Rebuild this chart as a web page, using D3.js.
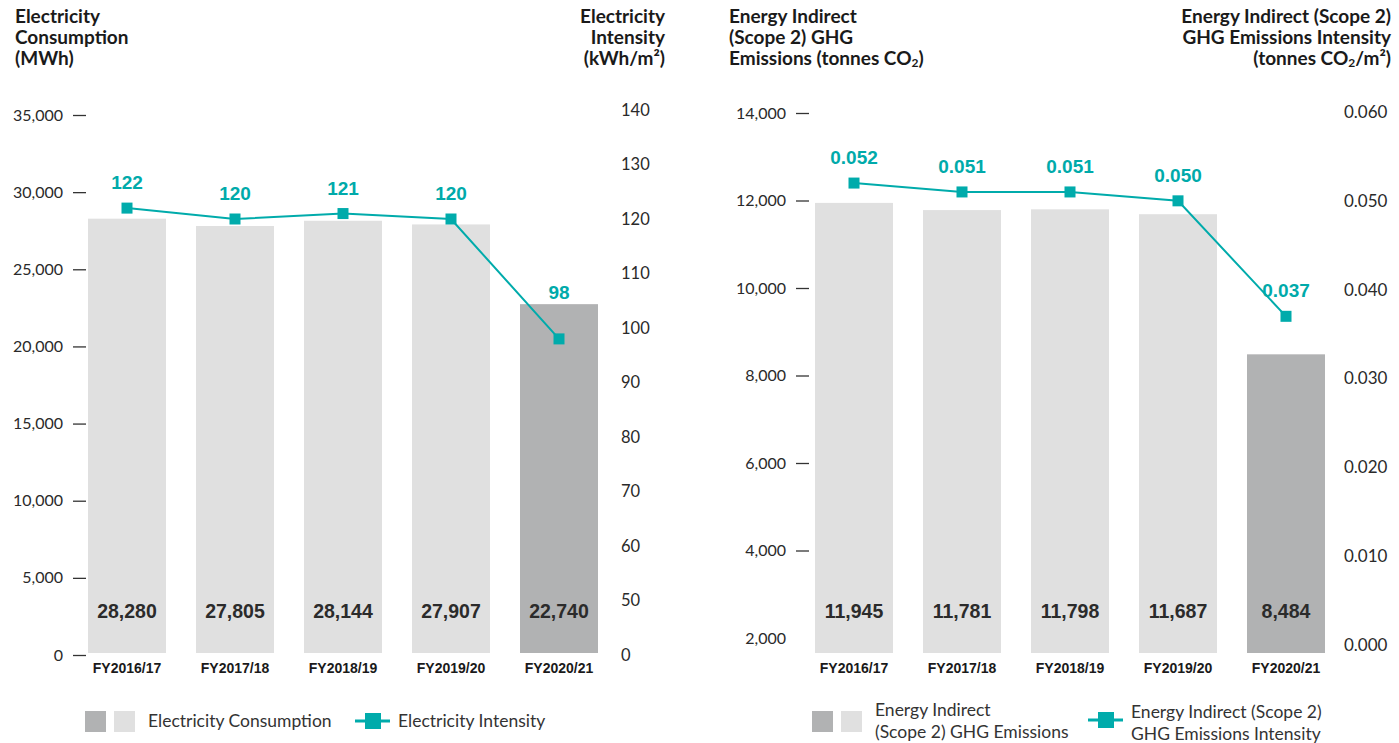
<!DOCTYPE html>
<html>
<head>
<meta charset="utf-8">
<script src="https://cdn.jsdelivr.net/npm/d3@7/dist/d3.min.js"></script>
<style>
  html, body { margin: 0; padding: 0; background: #fff; }
  svg { display: block; }
  .title { font-family: Lato, "Open Sans", sans-serif; font-weight: 700; font-size: 19px; fill: #1a1a1a; }
  .tick text { font-family: Lato, "Open Sans", sans-serif; font-size: 16px; fill: #2a2a2a; }
  .bar-label { font-family: "Liberation Sans", Arial, sans-serif; font-weight: 700; font-size: 19.5px; fill: #2b2b2b; }
  .cat-label { font-family: "Liberation Sans", Arial, sans-serif; font-weight: 700; font-size: 14px; fill: #1a1a1a; }
  .pt-label { font-family: "Liberation Sans", Arial, sans-serif; font-weight: 700; font-size: 19px; fill: #00aaaa; }
  .legend { font-family: Lato, "Open Sans", sans-serif; font-size: 17.5px; fill: #333; }
</style>
</head>
<body>
<svg id="chart" width="1399" height="743"></svg>
<script>
// ---- Data ----
const years = ["FY2016/17", "FY2017/18", "FY2018/19", "FY2019/20", "FY2020/21"];

const elecConsumption = [28280, 27805, 28144, 27907, 22740];   // MWh
const elecIntensity = [122, 120, 121, 120, 98];                 // kWh/m²

const ghgEmissions = [11945, 11781, 11798, 11687, 8484];        // tonnes CO2
const ghgIntensity = [0.052, 0.051, 0.051, 0.050, 0.037];       // tonnes CO2/m²

const elecTicks = [0, 5000, 10000, 15000, 20000, 25000, 30000, 35000];
const elecIntensityTicks = [40, 50, 60, 70, 80, 90, 100, 110, 120, 130, 140];
const elecIntensityTickLabels = ["0", "50", "60", "70", "80", "90", "100", "110", "120", "130", "140"];
const ghgTicks = [2000, 4000, 6000, 8000, 10000, 12000, 14000];
const ghgIntensityTicks = [0, 0.01, 0.02, 0.03, 0.04, 0.05, 0.06];

// ---- Style ----
const TEAL = "#00abab";
const BAR_LIGHT = "#e0e0e0";
const BAR_DARK = "#b1b2b3";
const BAR_BASE = 653;

const svg = d3.select("#chart");
const fmtInt = d3.format(",");

function barColor(i) { return i === years.length - 1 ? BAR_DARK : BAR_LIGHT; }

// Multi-line title; each line is an array of [text, isSubscript] pieces
function title(x, y, lines, anchor) {
  const t = svg.append("text").attr("class", "title").attr("text-anchor", anchor);
  lines.forEach((pieces, li) => {
    pieces.forEach((p, pi) => {
      const ts = t.append("tspan");
      if (pi === 0) ts.attr("x", x).attr("y", y + li * 21);
      if (p[1]) ts.attr("font-size", "12px").attr("dy", 2);
      else if (pi > 0 && pieces[pi - 1][1]) ts.attr("dy", -2);
      ts.text(p[0]);
    });
  });
}

function panel(opt) {
  const x = d3.scaleBand().domain(years).range(opt.xRange).paddingInner(0.278).paddingOuter(0.139);
  const g = svg.append("g");

  // left axis (bars)
  const axL = d3.axisLeft(opt.yBar).tickValues(opt.barTicks).tickSize(13).tickPadding(10)
    .tickFormat(d3.format(","));
  const gl = g.append("g").attr("transform", `translate(${opt.leftAxisX},0)`).call(axL);
  gl.select(".domain").remove();
  gl.selectAll(".tick line").attr("stroke", "#333").attr("stroke-width", 1.3);
  if (opt.noTickAt !== undefined) {
    gl.selectAll(".tick").filter(d => d === opt.noTickAt).select("line").remove();
  }

  // right axis (line)
  const axR = d3.axisRight(opt.yLine).tickValues(opt.lineTicks).tickSize(0).tickPadding(0)
    .tickFormat(opt.lineTickFormat);
  const gr = g.append("g").attr("transform", `translate(${opt.rightAxisX},0)`).call(axR);
  gr.select(".domain").remove();
  gr.selectAll(".tick text").style("font-size", opt.rightTickSize);

  // bars
  g.selectAll("rect.bar").data(opt.barValues).join("rect")
    .attr("class", "bar")
    .attr("x", (d, i) => x(years[i]))
    .attr("width", x.bandwidth())
    .attr("y", d => opt.yBar(d))
    .attr("height", d => BAR_BASE - opt.yBar(d))
    .attr("fill", (d, i) => barColor(i));

  // bar value labels
  g.selectAll("text.bar-label").data(opt.barValues).join("text")
    .attr("class", "bar-label")
    .attr("x", (d, i) => x(years[i]) + x.bandwidth() / 2)
    .attr("y", 618)
    .attr("text-anchor", "middle")
    .text(d => fmtInt(d));

  // category labels
  g.selectAll("text.cat-label").data(years).join("text")
    .attr("class", "cat-label")
    .attr("x", d => x(d) + x.bandwidth() / 2)
    .attr("y", 673)
    .attr("text-anchor", "middle")
    .text(d => d);

  // intensity line
  const cx = (d, i) => x(years[i]) + x.bandwidth() / 2;
  const line = d3.line().x(cx).y(d => opt.yLine(d));
  g.append("path").datum(opt.lineValues)
    .attr("d", line).attr("fill", "none").attr("stroke", TEAL).attr("stroke-width", 2);

  g.selectAll("rect.marker").data(opt.lineValues).join("rect")
    .attr("class", "marker")
    .attr("x", (d, i) => cx(d, i) - 5.5)
    .attr("y", d => opt.yLine(d) - 5.5)
    .attr("width", 11).attr("height", 11)
    .attr("fill", TEAL);

  // point labels: above the point, or above the bar when the point sits inside it
  g.selectAll("text.pt-label").data(opt.lineValues).join("text")
    .attr("class", "pt-label")
    .attr("x", (d, i) => cx(d, i))
    .attr("y", (d, i) => {
      const py = opt.yLine(d), by = opt.yBar(opt.barValues[i]);
      return py > by + 15 ? by - 5 : py - 19;
    })
    .attr("text-anchor", "middle")
    .text(d => opt.lineLabelFormat(d));
}

// ---- Left panel: Electricity ----
panel({
  xRange: [73, 613],
  yBar: d3.scaleLinear().domain([0, 35000]).range([655, 115]),
  yLine: d3.scaleLinear().domain([40, 140]).range([655, 110]),
  barTicks: elecTicks,
  lineTicks: elecIntensityTicks,
  lineTickFormat: (d, i) => elecIntensityTickLabels[i],
  leftAxisX: 86,
  rightAxisX: 621,
  rightTickSize: "16.5px",
  barValues: elecConsumption,
  lineValues: elecIntensity,
  lineLabelFormat: d3.format("d")
});

// ---- Right panel: Scope 2 GHG emissions ----
panel({
  xRange: [800, 1340],
  yBar: d3.scaleLinear().domain([2000, 14000]).range([638, 113]),
  yLine: d3.scaleLinear().domain([0, 0.06]).range([645, 112]),
  barTicks: ghgTicks,
  lineTicks: ghgIntensityTicks,
  lineTickFormat: d3.format(".3f"),
  leftAxisX: 809,
  rightAxisX: 1344,
  rightTickSize: "17px",
  noTickAt: 2000,
  barValues: ghgEmissions,
  lineValues: ghgIntensity,
  lineLabelFormat: d3.format(".3f")
});

// ---- Titles ----
title(15, 23, [[["Electricity"]], [["Consumption"]], [["(MWh)"]]], "start");
title(665, 23, [[["Electricity"]], [["Intensity"]], [["(kWh/m²)"]]], "end");
title(729, 23, [[["Energy Indirect"]], [["(Scope 2) GHG"]], [["Emissions (tonnes CO"], ["2", true], [")"]]], "start");
title(1391, 23, [[["Energy Indirect (Scope 2)"]], [["GHG Emissions Intensity"]],
  [["(tonnes CO"], ["2", true], ["/m²)"]]], "end");

// ---- Legends ----
function legendBars(x, y) {
  svg.append("rect").attr("x", x).attr("y", y).attr("width", 21).attr("height", 21).attr("fill", BAR_DARK);
  svg.append("rect").attr("x", x + 29).attr("y", y).attr("width", 21).attr("height", 21).attr("fill", BAR_LIGHT);
}
function legendLine(x, y) {
  svg.append("line").attr("x1", x).attr("x2", x + 35).attr("y1", y).attr("y2", y)
    .attr("stroke", TEAL).attr("stroke-width", 3);
  svg.append("rect").attr("x", x + 10).attr("y", y - 8).attr("width", 16).attr("height", 16).attr("fill", TEAL);
}
function legendText(x, y, lines, color) {
  const t = svg.append("text").attr("class", "legend").attr("fill", color);
  lines.forEach((s, i) => t.append("tspan").attr("x", x).attr("y", y + i * 22).text(s));
}

legendBars(85, 711);
legendText(148, 727, ["Electricity Consumption"], "#333");
legendLine(355, 721);
legendText(398, 727, ["Electricity Intensity"], "#6b6b6b");

legendBars(812, 711);
legendText(875, 716, ["Energy Indirect", "(Scope 2) GHG Emissions"], "#333");
legendLine(1088, 720);
legendText(1131, 718, ["Energy Indirect (Scope 2)", "GHG Emissions Intensity"], "#333");
</script>
</body>
</html>
